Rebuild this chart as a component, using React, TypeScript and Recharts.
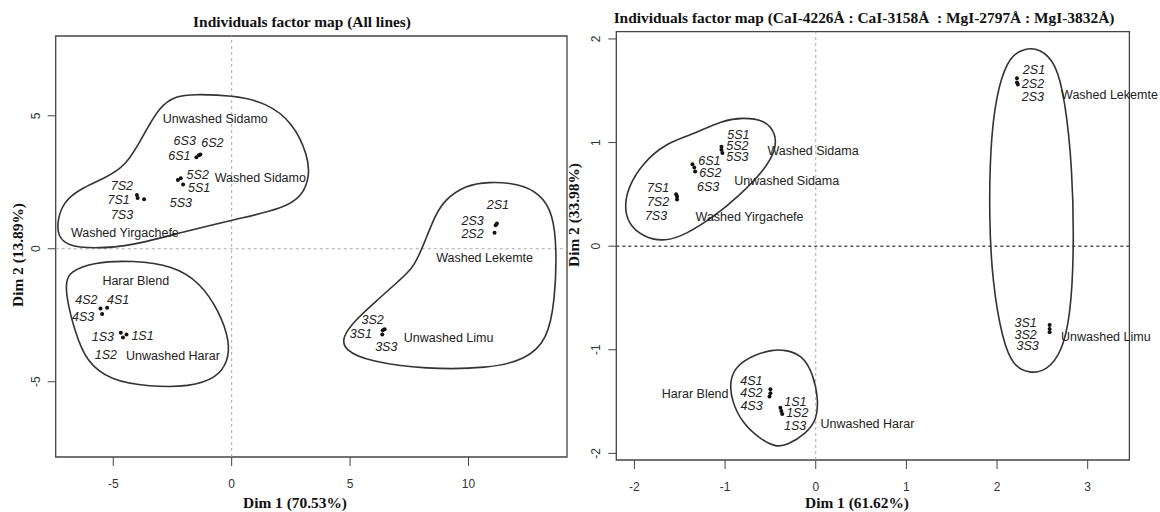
import React from "react";
import { ScatterChart, Scatter, XAxis, YAxis, ReferenceLine, ReferenceArea } from "recharts";

// sample codes shared by both factor maps
const samples = [
  "1S1", "1S2", "1S3", "2S1", "2S2", "2S3", "3S1", "3S2", "3S3",
  "4S1", "4S2", "4S3", "5S1", "5S2", "5S3", "6S1", "6S2", "6S3", "7S1", "7S2", "7S3",
];

// left map: all lines
const allDim1 = [-4.44, -4.59, -4.68, 11.2, 11.1, 11.15, 6.38, 6.46, 6.36, -5.26, -5.54, -5.47, -2.05, -2.15, -2.27, -1.49, -1.32, -1.39, -3.97, -4.0, -3.7];
const allDim2 = [-3.22, -3.34, -3.16, 0.95, 0.6, 0.88, -3.06, -3.03, -3.22, -2.22, -2.25, -2.45, 2.42, 2.65, 2.59, 3.44, 3.54, 3.52, 1.91, 2.02, 1.86];

// right map: CaI / MgI lines
const lineDim1 = [-0.39, -0.38, -0.37, 2.22, 2.22, 2.23, 2.58, 2.58, 2.58, -0.5, -0.5, -0.51, -1.04, -1.04, -1.03, -1.36, -1.34, -1.33, -1.54, -1.53, -1.53];
const lineDim2 = [-1.56, -1.59, -1.62, 1.62, 1.58, 1.56, -0.76, -0.8, -0.83, -1.38, -1.42, -1.45, 0.96, 0.93, 0.9, 0.79, 0.76, 0.72, 0.5, 0.48, 0.45];

// coffee group names and where they are written
const allGroups = ["Unwashed Sidamo", "Washed Sidamo", "Washed Yirgachefe", "Harar Blend", "Unwashed Harar", "Washed Lekemte", "Unwashed Limu"];
const allGroupX = [-0.69, 1.21, -4.51, -4.05, -2.48, 10.68, 9.16];
const allGroupY = [4.87, 2.65, 0.59, -1.21, -4.02, -0.35, -3.37];

const lineGroups = ["Washed Sidama", "Unwashed Sidama", "Washed Yirgachefe", "Harar Blend", "Unwashed Harar", "Washed Lekemte", "Unwashed Limu"];
const lineGroupX = [-0.03, -0.32, -0.73, -1.33, 0.57, 3.24, 3.2];
const lineGroupY = [0.92, 0.63, 0.28, -1.43, -1.72, 1.46, -0.88];

// hand drawn outlines around clusters [dim1, dim2]
const allHullSidamo = [
  [-7.37, 1.0], [-7.12, 1.75], [-6.41, 2.25], [-5.43, 2.62], [-4.44, 3.12], [-3.74, 4.25], [-3.04, 5.37],
  [-2.33, 5.75], [-1.63, 5.81], [0.05, 5.77], [1.46, 5.5], [2.59, 4.75], [3.22, 3.5], [3.29, 2.75],
  [3.01, 2.0], [2.16, 1.5], [0.2, 1.12], [-2.05, 0.63], [-4.16, 0.12], [-5.85, 0.0], [-6.97, 0.12], [-7.33, 0.5],
];
const allHullHarar = [
  [-6.84, -0.87], [-5.85, -0.5], [-4.16, -0.44], [-2.48, -0.63], [-1.35, -1.25], [-0.51, -2.37], [-0.08, -3.5],
  [-0.16, -4.25], [-0.65, -4.87], [-1.77, -5.19], [-3.46, -5.19], [-5.15, -4.94], [-6.13, -4.25], [-6.62, -3.12],
  [-6.97, -1.87], [-7.0, -1.25],
];
const allHullLimu = [
  [8.97, 1.83], [9.89, 2.39], [10.82, 2.52], [12.09, 2.46], [13.02, 2.08], [13.57, 1.33], [13.73, -0.05],
  [13.65, -1.93], [13.34, -3.43], [12.4, -4.18], [10.84, -4.5], [8.18, -4.53], [5.84, -4.25], [4.74, -3.81],
  [4.67, -3.31], [5.22, -2.68], [6.15, -1.93], [7.09, -1.18], [7.72, -0.68], [8.18, 0.33], [8.57, 1.2],
];
const lineHullSidama = [
  [-2.11, 0.38], [-2.07, 0.57], [-1.91, 0.8], [-1.66, 0.99], [-1.38, 1.07], [-1.01, 1.22], [-0.81, 1.24],
  [-0.56, 1.22], [-0.44, 1.09], [-0.44, 0.93], [-0.56, 0.74], [-0.85, 0.48], [-1.13, 0.28], [-1.42, 0.12],
  [-1.66, 0.04], [-1.91, 0.09], [-2.07, 0.22],
];
const lineHullHarar = [
  [-0.34, -1.0], [-0.15, -1.05], [-0.03, -1.23], [0.03, -1.48], [0.01, -1.68], [-0.11, -1.81], [-0.31, -1.92],
  [-0.44, -1.94], [-0.6, -1.87], [-0.81, -1.71], [-0.93, -1.49], [-0.95, -1.29], [-0.87, -1.15], [-0.68, -1.05],
  [-0.48, -1.0],
];
const lineHullLimu = [
  [2.3, 1.91], [2.47, 1.91], [2.65, 1.77], [2.75, 1.41], [2.83, 0.77], [2.85, -0.04], [2.81, -0.68],
  [2.71, -1.03], [2.55, -1.2], [2.36, -1.23], [2.18, -1.16], [2.06, -0.91], [1.95, -0.36], [1.91, 0.28],
  [1.93, 1.09], [2.02, 1.57], [2.14, 1.83],
];

const allTicksX = [-5, 0, 5, 10];
const allTicksY = [-5, 0, 5];
const lineTicksX = [-2, -1, 0, 1, 2, 3];
const lineTicksY = [-2, -1, 0, 1, 2];

// label placement next to each dot (px)
const allLabelOffset: Record<string, [number, number]> = {
  "1S1": [16, 2], "1S2": [-17, 17], "1S3": [-18, 4],
  "2S1": [1, -18], "2S2": [-22, 1], "2S3": [-23, -4],
  "3S1": [-22, 4], "3S2": [-12, -9], "3S3": [4, 13],
  "4S1": [11, -8], "4S2": [-14, -9], "4S3": [-19, 3],
  "5S1": [16, 4], "5S2": [17, -3], "5S3": [3, 23],
  "6S1": [-17, -1], "6S2": [12, -12], "6S3": [-14, -14],
  "7S1": [-19, 2], "7S2": [-15, -9], "7S3": [-22, 16],
};
const lineLabelOffset: Record<string, [number, number]> = {
  "1S1": [15, -6], "1S2": [16, 2], "1S3": [13, 12],
  "2S1": [17, -8], "2S2": [16, 2], "2S3": [15, 12],
  "3S1": [-24, -2], "3S2": [-24, 6], "3S3": [-22, 14],
  "4S1": [-19, -8], "4S2": [-19, 0], "4S3": [-18, 10],
  "5S1": [17, -12], "5S2": [16, -4], "5S3": [15, 4],
  "6S1": [17, -3], "6S2": [16, 6], "6S3": [13, 15],
  "7S1": [-18, -6], "7S2": [-19, 6], "7S3": [-21, 16],
};

const SANS = "'Liberation Sans', Arial, sans-serif";
const SERIF = "'Liberation Serif', 'Times New Roman', serif";
const INK = "#222";

const toPoints = (xs: number[], ys: number[], names: string[]) =>
  names.map((name, i) => ({ name, x: xs[i], y: ys[i] }));
const toOutline = (pts: number[][]) => pts.map(([x, y]) => ({ x, y }));

interface MapProps {
  left: number;
  width: number;
  plot: { top: number; bottom: number; left: number; right: number };
  xDomain: [number, number];
  yDomain: [number, number];
  xTicks: number[];
  yTicks: number[];
  points: { name: string; x: number; y: number }[];
  offsets: Record<string, [number, number]>;
  groups: { name: string; x: number; y: number }[];
  hulls: { x: number; y: number }[][];
  darkZeroLine?: boolean;
}

const FactorMap: React.FC<MapProps> = (p) => {
  const XTick = (t: any) => (
    <text x={t.x} y={t.y} textAnchor="middle" dominantBaseline="central" fontSize={12} fontFamily={SANS} fill="#333">
      {t.payload.value}
    </text>
  );
  const YTick = (t: any) => (
    <text
      x={t.x}
      y={t.y}
      textAnchor="middle"
      dominantBaseline="central"
      fontSize={12}
      fontFamily={SANS}
      fill="#333"
      transform={`rotate(-90, ${t.x}, ${t.y})`}
    >
      {t.payload.value}
    </text>
  );

  return (
    <div style={{ position: "absolute", left: p.left, top: 0 }}>
      <ScatterChart
        width={p.width}
        height={512}
        margin={{ top: p.plot.top, right: p.plot.right, bottom: 0, left: 0 }}
      >
        <XAxis
          type="number"
          dataKey="x"
          domain={p.xDomain}
          ticks={p.xTicks}
          height={p.plot.bottom}
          axisLine={false}
          tickLine={{ stroke: "#444", strokeWidth: 1 }}
          tickSize={9}
          tickMargin={18}
          tick={XTick}
        />
        <YAxis
          type="number"
          dataKey="y"
          domain={p.yDomain}
          ticks={p.yTicks}
          width={p.plot.left}
          axisLine={false}
          tickLine={{ stroke: "#444", strokeWidth: 1 }}
          tickSize={8}
          tickMargin={12}
          tick={YTick}
        />
        <ReferenceArea
          x1={p.xDomain[0]}
          x2={p.xDomain[1]}
          y1={p.yDomain[0]}
          y2={p.yDomain[1]}
          fill="none"
          fillOpacity={0}
          stroke="#444"
          strokeWidth={1.3}
        />
        <ReferenceLine x={0} stroke="#aaa" strokeDasharray="3 3" strokeWidth={1} />
        <ReferenceLine
          y={0}
          stroke={p.darkZeroLine ? "#555" : "#aaa"}
          strokeDasharray="3 3"
          strokeWidth={p.darkZeroLine ? 1.5 : 1}
        />
        {p.hulls.map((h, i) => (
          <Scatter
            key={i}
            data={h}
            line={{ stroke: "#333", strokeWidth: 1.6, fill: "none" }}
            lineJointType="basisClosed"
            shape={() => <g />}
            isAnimationActive={false}
          />
        ))}
        <Scatter
          data={p.groups}
          isAnimationActive={false}
          shape={(s: any) => (
            <text x={s.cx} y={s.cy} textAnchor="middle" dominantBaseline="central" fontSize={12.5} fontFamily={SANS} fill={INK}>
              {s.payload.name}
            </text>
          )}
        />
        <Scatter
          data={p.points}
          isAnimationActive={false}
          shape={(s: any) => {
            const [dx, dy] = p.offsets[s.payload.name] || [0, 0];
            return (
              <g>
                <circle cx={s.cx} cy={s.cy} r={2} fill="#111" />
                <text
                  x={s.cx + dx}
                  y={s.cy + dy}
                  textAnchor="middle"
                  dominantBaseline="central"
                  fontSize={12.5}
                  fontStyle="italic"
                  fontFamily={SANS}
                  fill={INK}
                >
                  {s.payload.name}
                </text>
              </g>
            );
          }}
        />
      </ScatterChart>
    </div>
  );
};

const Title: React.FC<{ x: number; y: number; rotate?: boolean; children: React.ReactNode }> = ({ x, y, rotate, children }) => (
  <div
    style={{
      position: "absolute",
      left: x,
      top: y,
      transform: `translate(-50%, -50%)${rotate ? " rotate(-90deg)" : ""}`,
      whiteSpace: "pre",
      fontFamily: SERIF,
      fontWeight: "bold",
      fontSize: 15.4,
      color: "#111",
      lineHeight: 1,
    }}
  >
    {children}
  </div>
);

export default function App() {
  return (
    <div style={{ position: "absolute", left: 0, top: 0, width: 1160, height: 512, background: "#fff", overflow: "hidden" }}>
      <FactorMap
        left={0}
        width={580}
        plot={{ top: 36, bottom: 55, left: 55.7, right: 13 }}
        xDomain={[-7.43, 14.16]}
        yDomain={[-7.83, 8.0]}
        xTicks={allTicksX}
        yTicks={allTicksY}
        points={toPoints(allDim1, allDim2, samples)}
        offsets={allLabelOffset}
        groups={toPoints(allGroupX, allGroupY, allGroups)}
        hulls={[allHullSidamo, allHullHarar, allHullLimu].map(toOutline)}
      />
      <FactorMap
        left={580}
        width={580}
        plot={{ top: 31.7, bottom: 52, left: 36.3, right: 30.6 }}
        xDomain={[-2.2, 3.46]}
        yDomain={[-2.064, 2.07]}
        xTicks={lineTicksX}
        yTicks={lineTicksY}
        points={toPoints(lineDim1, lineDim2, samples)}
        offsets={lineLabelOffset}
        groups={toPoints(lineGroupX, lineGroupY, lineGroups)}
        hulls={[lineHullSidama, lineHullHarar, lineHullLimu].map(toOutline)}
        darkZeroLine
      />
      <Title x={302} y={21.7}>Individuals factor map (All lines)</Title>
      <Title x={864} y={18.3}>{"Individuals factor map (CaI-4226Å : CaI-3158Å  : MgI-2797Å : MgI-3832Å)"}</Title>
      <Title x={295} y={503}>Dim 1 (70.53%)</Title>
      <Title x={857} y={503}>Dim 1 (61.62%)</Title>
      <Title x={18} y={255} rotate>Dim 2 (13.89%)</Title>
      <Title x={574} y={215} rotate>Dim 2 (33.98%)</Title>
    </div>
  );
}
